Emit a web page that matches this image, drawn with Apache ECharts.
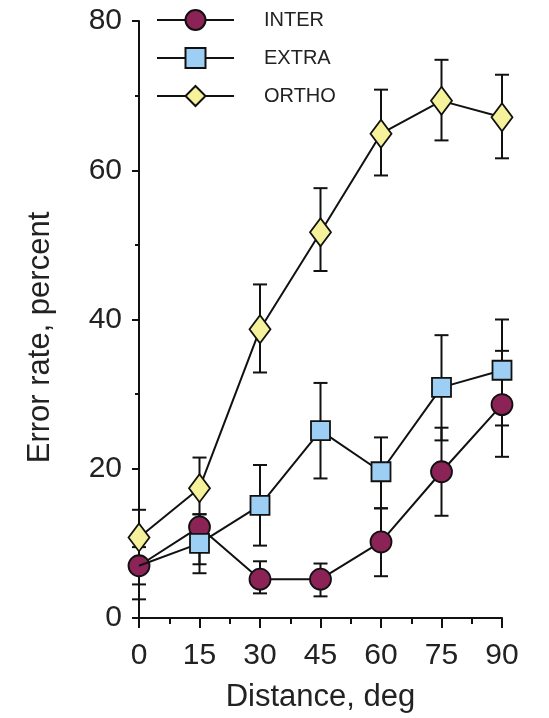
<!DOCTYPE html>
<html>
<head>
<meta charset="utf-8">
<script src="https://cdn.jsdelivr.net/npm/echarts@6/dist/echarts.min.js"></script>
<style>
html,body{margin:0;padding:0;background:#fff;}
#chart{width:549px;height:718px;}
</style>
</head>
<body>
<div id="chart"></div>
<script>
const distances = [0, 15, 30, 45, 60, 75, 90];
const xTicks = [0, 15, 30, 45, 60, 75, 90];
const yTicks = [0, 20, 40, 60, 80];

const interVals = [7.0, 12.2, 5.2, 5.2, 10.2, 19.6, 28.6];
const interLow  = [2.5, 7.2, 3.3, 2.9, 5.6, 13.7, 21.6];
const interHigh = [11.5, 13.9, 7.6, 7.3, 14.7, 25.5, 35.8];

const extraVals = [7.0, 10.0, 15.1, 25.1, 19.6, 30.9, 33.2];
const extraLow  = [4.5, 6.0, 9.7, 18.7, 14.7, 23.8, 25.8];
const extraHigh = [9.5, 13.9, 20.5, 31.5, 24.2, 37.9, 40.0];
const extraHiddenMarker = [true, false, false, false, false, false, false];

const orthoVals = [10.8, 17.4, 38.7, 51.7, 64.9, 69.3, 67.1];
const orthoLow  = [6.9, 13.2, 32.9, 46.5, 59.3, 64.0, 61.6];
const orthoHigh = [14.5, 21.5, 44.7, 57.6, 70.8, 74.8, 72.8];

const FONT = '"Liberation Sans", Arial, Helvetica, sans-serif';
const TXT = '#222';

function pairs(vals, hidden) {
  return distances.map((d, i) => (hidden && hidden[i]) ? { value: [d, vals[i]], symbol: 'none' } : [d, vals[i]]);
}
function errData(lo, hi) { return distances.map((d, i) => [d, lo[i], hi[i]]); }

function errRender(params, api) {
  const x = api.value(0);
  const lo = api.coord([x, api.value(1)]);
  const hi = api.coord([x, api.value(2)]);
  const w = 7;
  const style = { stroke: '#111', lineWidth: 2, fill: null };
  return {
    type: 'group',
    children: [
      { type: 'line', shape: { x1: lo[0], y1: lo[1], x2: hi[0], y2: hi[1] }, style },
      { type: 'line', shape: { x1: hi[0] - w, y1: hi[1], x2: hi[0] + w, y2: hi[1] }, style },
      { type: 'line', shape: { x1: lo[0] - w, y1: lo[1], x2: lo[0] + w, y2: lo[1] }, style }
    ]
  };
}

function lineSeries(name, vals, symbol, size, color, z, hidden) {
  return {
    name, type: 'line', data: pairs(vals, hidden), symbol, symbolSize: size,
    z, showAllSymbol: true,
    lineStyle: { color: '#111', width: 2 },
    itemStyle: { color, borderColor: '#111', borderWidth: 1.8 },
    emphasis: { disabled: true }, animation: false
  };
}
function errSeries(lo, hi) {
  return { type: 'custom', renderItem: errRender, data: errData(lo, hi), z: 1, animation: false, silent: true };
}

const chart = echarts.init(document.getElementById('chart'), null, { renderer: 'canvas' });
chart.setOption({
  backgroundColor: '#fff',
  animation: false,
  textStyle: { fontFamily: FONT },
  legend: {
    orient: 'vertical', left: 151, top: 4,
    itemWidth: 77, itemHeight: 25, itemGap: 16,
    textStyle: { fontFamily: FONT, fontSize: 20, color: TXT, padding: [0, 0, 0, 25] },
    data: ['INTER', 'EXTRA', 'ORTHO'],
    selectedMode: false
  },
  grid: { left: 139, right: 47, top: 21, bottom: 98, containLabel: false },
  xAxis: {
    type: 'value', min: 0, max: 90, interval: 15,
    name: 'Distance, deg', nameLocation: 'middle', nameGap: 64,
    nameTextStyle: { fontFamily: FONT, fontSize: 31, color: TXT },
    axisLine: { lineStyle: { color: '#111', width: 2 } },
    axisTick: { length: 10, inside: false, lineStyle: { color: '#111', width: 2 } },
    minorTick: { show: true, splitNumber: 2, length: 6, lineStyle: { color: '#111', width: 2 } },
    axisLabel: { fontFamily: FONT, fontSize: 30, color: TXT, margin: 23, formatter: v => xTicks.includes(v) ? String(v) : '' },
    splitLine: { show: false }
  },
  yAxis: {
    type: 'value', min: 0, max: 80, interval: 20,
    name: 'Error rate, percent', nameLocation: 'middle', nameGap: 83, nameRotate: 90,
    nameTextStyle: { fontFamily: FONT, fontSize: 31, color: TXT, padding: [0, 36, 0, 0] },
    axisLine: { show: true, lineStyle: { color: '#111', width: 2 } },
    axisTick: { show: true, length: 7, lineStyle: { color: '#111', width: 2 } },
    minorTick: { show: true, splitNumber: 2, length: 4, lineStyle: { color: '#111', width: 2 } },
    axisLabel: { fontFamily: FONT, fontSize: 30, color: TXT, margin: 17, formatter: v => yTicks.includes(v) ? String(v) : '' },
    splitLine: { show: false }
  },
  series: [
    errSeries(interLow, interHigh),
    errSeries(extraLow, extraHigh),
    errSeries(orthoLow, orthoHigh),
    lineSeries('INTER', interVals, 'circle', 21, '#8c2356', 3),
    lineSeries('EXTRA', extraVals, 'rect', 19, '#9dcff5', 4, extraHiddenMarker),
    lineSeries('ORTHO', orthoVals, 'diamond', [21, 28], '#f6f29c', 5)
  ]
});
</script>
</body>
</html>
